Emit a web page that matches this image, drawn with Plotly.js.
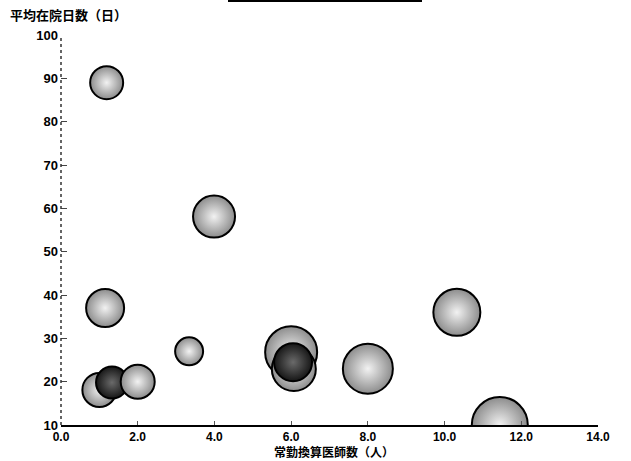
<!DOCTYPE html>
<html>
<head>
<meta charset="utf-8">
<script src="https://cdn.plot.ly/plotly-3.0.1.min.js"></script>
<style>html,body{margin:0;padding:0;background:#fff;}#chart{width:631px;height:461px;}</style>
</head>
<body>
<div id="chart"></div>
<script>
// Data (draw order matters for overlaps)
const doctors   = [1.19, 3.99, 1.15, 10.32, 3.34, 6.00, 6.07, 6.05, 8.00, 11.44, 1.00, 1.33, 2.00];
const stayDays  = [89.0, 58.1, 37.0, 36.0, 27.0, 26.8, 22.9, 24.5, 23.0, 10.0, 18.1, 19.8, 20.0];
const bubbleSize = [33, 42, 38, 47, 28, 52, 44, 38, 50, 56, 34, 32, 34];
const shade     = ['light','light','light','light','light','light','light','dark','light','light','light','dark','light'];
const xTicks = [0, 2, 4, 6, 8, 10, 12, 14];
const yTicks = [10, 20, 30, 40, 50, 60, 70, 80, 90, 100];
const xTitle = '常勤換算医師数（人）';
const yTitle = '平均在院日数（日）';

const edgeColor = shade.map(s => s === 'dark' ? '#161616' : '#8c8c8c');
const centerColor = shade.map(s => s === 'dark' ? '#6a6a6a' : '#f2f2f2');

const trace = {
  type: 'scatter',
  mode: 'markers',
  x: doctors,
  y: stayDays,
  cliponaxis: true,
  marker: {
    size: bubbleSize,
    sizemode: 'diameter',
    color: edgeColor,
    gradient: {type: 'radial', color: centerColor},
    line: {color: '#000', width: 2},
    opacity: 1
  },
  hoverinfo: 'x+y'
};

const xTickFont = {family: 'Liberation Sans, Arial, sans-serif', size: 12, color: '#000', weight: 'bold'};
const yTickFont = {family: 'Liberation Sans, Arial, sans-serif', size: 13, color: '#000', weight: 'bold'};
const titleFont = {family: 'Noto Sans CJK JP, sans-serif', size: 13, color: '#000', weight: 'bold'};
const xTitleFont = {family: 'Noto Sans CJK JP, sans-serif', size: 12, color: '#000', weight: 'bold'};

const layout = {
  width: 631, height: 461,
  margin: {l: 61, r: 33, t: 35, b: 36, pad: 0},
  paper_bgcolor: '#fff', plot_bgcolor: '#fff',
  showlegend: false,
  xaxis: {
    range: [0, 14], tickvals: xTicks, tickformat: '.1f',
    showgrid: false, zeroline: false,
    showline: true, linecolor: '#000', linewidth: 2,
    ticks: 'inside', ticklen: 4, tickwidth: 1, tickcolor: '#555',
    tickfont: xTickFont, ticklabelstandoff: 0, fixedrange: true
  },
  yaxis: {
    range: [10, 100], tickvals: yTicks,
    showgrid: false, zeroline: false, showline: false,
    ticks: 'inside', ticklen: 6, tickwidth: 1, tickcolor: '#444',
    tickfont: yTickFont, ticklabelstandoff: 2, fixedrange: true
  },
  shapes: [
    {type: 'line', xref: 'paper', yref: 'paper', x0: 0, x1: 0, y0: 0, y1: 1,
     line: {color: '#333', width: 1.5, dash: 'dot'}},
    {type: 'line', xref: 'paper', yref: 'paper', x0: (228-61)/537, x1: (422-61)/537,
     y0: (425-1)/390, y1: (425-1)/390, line: {color: '#000', width: 2}}
  ],
  annotations: [
    {text: yTitle, xref: 'paper', yref: 'paper', x: (8-61)/537, y: (425-15)/390,
     xanchor: 'left', yanchor: 'middle', showarrow: false, font: titleFont},
    {text: xTitle, xref: 'paper', yref: 'paper', x: (334-61)/537, y: -(451-425)/390,
     xanchor: 'center', yanchor: 'middle', showarrow: false, font: xTitleFont}
  ]
};

Plotly.newPlot('chart', [trace], layout, {displayModeBar: false, staticPlot: true});
</script>
</body>
</html>
